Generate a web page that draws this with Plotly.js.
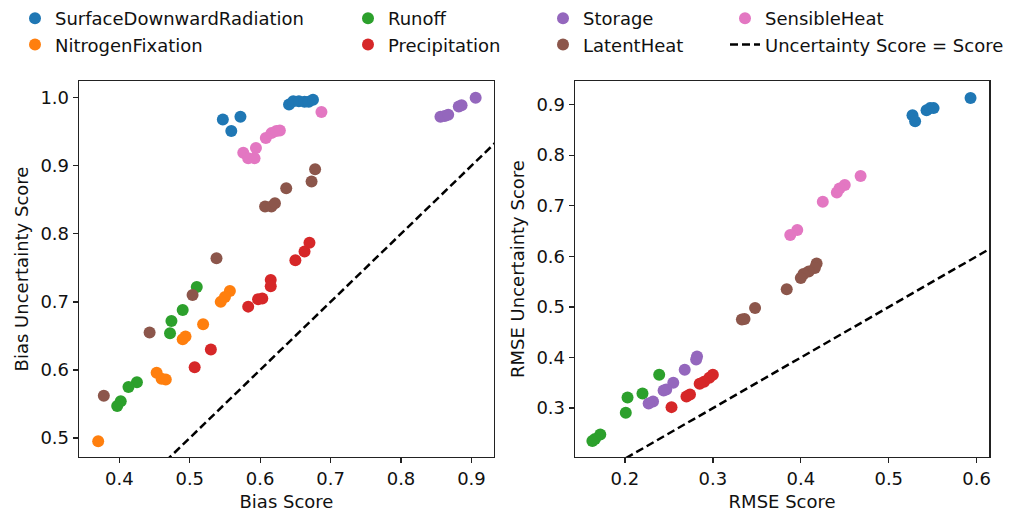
<!DOCTYPE html>
<html><head><meta charset="utf-8">
<script src="https://cdn.plot.ly/plotly-3.0.1.min.js"></script>
<style>html,body{margin:0;padding:0;background:#fff}#chart{width:1011px;height:512px}</style>
</head><body><div id="chart"></div><script>
// ---- data ----
const sdrBiasX = [0.547, 0.559, 0.572, 0.641, 0.647, 0.655, 0.663, 0.669, 0.675];
const sdrBiasY = [0.968, 0.951, 0.972, 0.990, 0.995, 0.995, 0.994, 0.994, 0.997];
const sdrRmseX = [0.527, 0.530, 0.543, 0.547, 0.551, 0.593];
const sdrRmseY = [0.879, 0.867, 0.889, 0.893, 0.893, 0.913];

const nfBiasX = [0.557, 0.550, 0.544, 0.519, 0.494, 0.490, 0.453, 0.460, 0.466, 0.370];
const nfBiasY = [0.716, 0.707, 0.700, 0.667, 0.649, 0.645, 0.596, 0.587, 0.586, 0.495];

const roBiasX = [0.510, 0.490, 0.474, 0.472, 0.425, 0.413, 0.402, 0.397];
const roBiasY = [0.722, 0.688, 0.672, 0.654, 0.582, 0.575, 0.554, 0.547];
const roRmseX = [0.239, 0.220, 0.203, 0.201, 0.172, 0.166, 0.163];
const roRmseY = [0.366, 0.329, 0.321, 0.291, 0.248, 0.239, 0.235];

const prBiasX = [0.583, 0.597, 0.603, 0.615, 0.615, 0.650, 0.663, 0.670, 0.530, 0.507];
const prBiasY = [0.693, 0.704, 0.705, 0.732, 0.723, 0.761, 0.774, 0.787, 0.630, 0.604];
const prRmseX = [0.300, 0.296, 0.290, 0.285, 0.274, 0.270, 0.253];
const prRmseY = [0.366, 0.360, 0.352, 0.348, 0.327, 0.323, 0.302];

const stBiasX = [0.856, 0.862, 0.867, 0.882, 0.886, 0.906];
const stBiasY = [0.972, 0.973, 0.975, 0.987, 0.989, 1.000];
const stRmseX = [0.282, 0.281, 0.268, 0.255, 0.247, 0.244, 0.232, 0.227];
const stRmseY = [0.402, 0.396, 0.376, 0.350, 0.337, 0.335, 0.313, 0.309];

const lhBiasX = [0.607, 0.616, 0.621, 0.637, 0.673, 0.678, 0.538, 0.504, 0.443, 0.378];
const lhBiasY = [0.840, 0.840, 0.845, 0.867, 0.877, 0.895, 0.764, 0.710, 0.655, 0.562];
const lhRmseX = [0.418, 0.416, 0.409, 0.403, 0.400, 0.384, 0.348, 0.336, 0.333];
const lhRmseY = [0.586, 0.577, 0.570, 0.565, 0.557, 0.535, 0.498, 0.476, 0.475];

const shBiasX = [0.576, 0.583, 0.594, 0.592, 0.608, 0.616, 0.623, 0.628, 0.687];
const shBiasY = [0.919, 0.911, 0.926, 0.911, 0.941, 0.948, 0.951, 0.952, 0.979];
const shRmseX = [0.468, 0.450, 0.444, 0.441, 0.425, 0.396, 0.388];
const shRmseY = [0.759, 0.741, 0.734, 0.726, 0.708, 0.652, 0.642];

const refLine = [0, 1]; // Uncertainty Score = Score

const biasTicks = [0.4, 0.5, 0.6, 0.7, 0.8, 0.9];
const biasUTicks = [0.5, 0.6, 0.7, 0.8, 0.9, 1.0];
const rmseTicks = [0.2, 0.3, 0.4, 0.5, 0.6];
const rmseUTicks = [0.3, 0.4, 0.5, 0.6, 0.7, 0.8, 0.9];

// ---- traces ----
const MS = 12;
function pts(name, color, x, y, xa, ya, leg, show) {
  return {type: 'scatter', mode: 'markers', name: name, x: x, y: y,
    xaxis: xa, yaxis: ya, legend: leg, showlegend: show, legendgroup: name,
    marker: {color: color, size: MS, line: {width: 0}}, cliponaxis: true};
}
const traces = [
  pts('SurfaceDownwardRadiation', '#1f77b4', sdrBiasX, sdrBiasY, 'x', 'y', 'legend', true),
  pts('SurfaceDownwardRadiation', '#1f77b4', sdrRmseX, sdrRmseY, 'x2', 'y2', 'legend', false),
  pts('NitrogenFixation', '#ff7f0e', nfBiasX, nfBiasY, 'x', 'y', 'legend', true),
  pts('Runoff', '#2ca02c', roBiasX, roBiasY, 'x', 'y', 'legend2', true),
  pts('Runoff', '#2ca02c', roRmseX, roRmseY, 'x2', 'y2', 'legend2', false),
  pts('Precipitation', '#d62728', prBiasX, prBiasY, 'x', 'y', 'legend2', true),
  pts('Precipitation', '#d62728', prRmseX, prRmseY, 'x2', 'y2', 'legend2', false),
  pts('Storage', '#9467bd', stBiasX, stBiasY, 'x', 'y', 'legend3', true),
  pts('Storage', '#9467bd', stRmseX, stRmseY, 'x2', 'y2', 'legend3', false),
  pts('LatentHeat', '#8c564b', lhBiasX, lhBiasY, 'x', 'y', 'legend3', true),
  pts('LatentHeat', '#8c564b', lhRmseX, lhRmseY, 'x2', 'y2', 'legend3', false),
  pts('SensibleHeat', '#e377c2', shBiasX, shBiasY, 'x', 'y', 'legend4', true),
  pts('SensibleHeat', '#e377c2', shRmseX, shRmseY, 'x2', 'y2', 'legend4', false),
  {type: 'scatter', mode: 'lines', name: 'Uncertainty Score = Score', x: refLine, y: refLine,
   xaxis: 'x', yaxis: 'y', legend: 'legend4', showlegend: true, legendgroup: 'ref',
   line: {color: '#000', width: 2.5, dash: '8px,4px'}},
  {type: 'scatter', mode: 'lines', name: 'Uncertainty Score = Score', x: refLine, y: refLine,
   xaxis: 'x2', yaxis: 'y2', legend: 'legend4', showlegend: false, legendgroup: 'ref',
   line: {color: '#000', width: 2.5, dash: '8px,4px'}}
];

const FONT = 'DejaVu Sans, sans-serif';
function ax(domain, range, ticks, title, anchor, standoff) {
  const t = {text: title, font: {family: FONT, size: 18, color: '#111'}};
  if (standoff !== undefined) t.standoff = standoff;
  return {domain: domain, range: range, tickvals: ticks, tickformat: '.1f',
    anchor: anchor, showgrid: false, zeroline: false,
    showline: true, mirror: true, linecolor: '#222', linewidth: 1.3,
    ticks: 'outside', ticklen: 5, tickwidth: 1.3, tickcolor: '#222',
    tickfont: {family: FONT, size: 18, color: '#111'},
    title: t};
}
const legBase = {orientation: 'v', y: 1.0, yanchor: 'top', xanchor: 'left',
  bgcolor: 'rgba(0,0,0,0)', borderwidth: 0, tracegroupgap: 0,
  font: {family: FONT, size: 18, color: '#111'}};
const layout = {
  width: 1011, height: 512,
  margin: {l: 0, r: 0, t: 0, b: 0},
  paper_bgcolor: '#fff', plot_bgcolor: '#fff',
  showlegend: true,
  xaxis: ax([0.0781, 0.4886], [0.3427, 0.932], biasTicks, 'Bias Score', 'y'),
  yaxis: ax([0.1074, 0.8418], [0.472, 1.0246], biasUTicks, 'Bias Uncertainty Score', 'x', 7),
  xaxis2: ax([0.5687, 0.9785], [0.1432, 0.6143], rmseTicks, 'RMSE Score', 'y2'),
  yaxis2: ax([0.1074, 0.8418], [0.2034, 0.9466], rmseUTicks, 'RMSE Uncertainty Score', 'x2', 7),
  legend: Object.assign({}, legBase, {x: 15 / 1011}),
  legend2: Object.assign({}, legBase, {x: 348 / 1011}),
  legend3: Object.assign({}, legBase, {x: 543 / 1011}),
  legend4: Object.assign({}, legBase, {x: 725 / 1011})
};
Plotly.newPlot('chart', traces, layout, {staticPlot: true, displayModeBar: false});
</script></body></html>
